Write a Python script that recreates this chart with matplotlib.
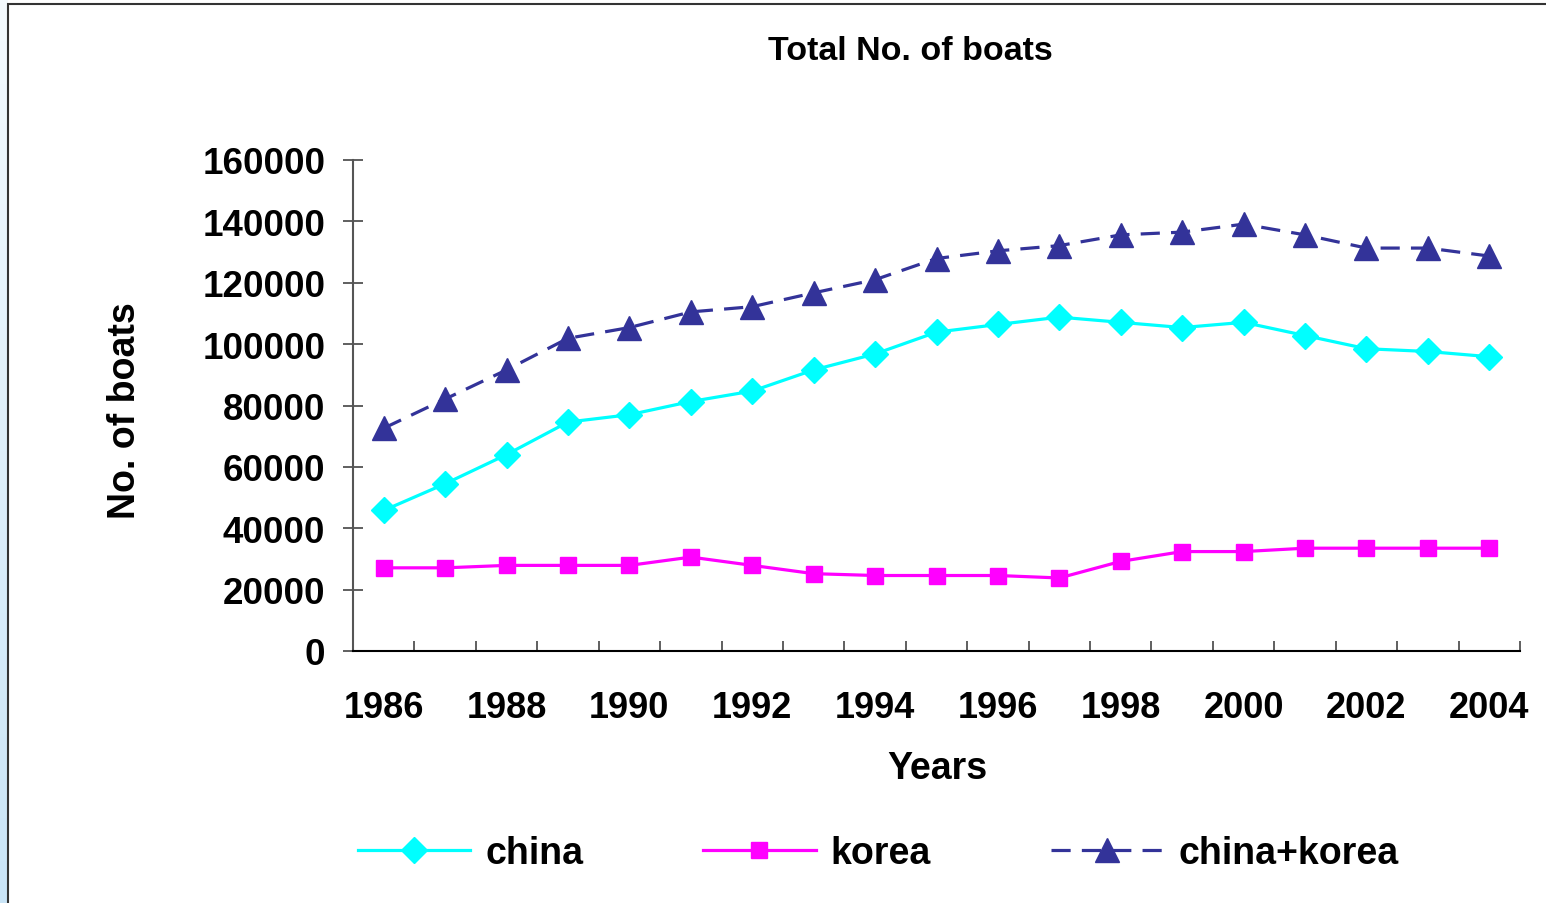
import numpy as np
import matplotlib
matplotlib.use("Agg")
import matplotlib.pyplot as plt
from matplotlib.patches import Rectangle

plt.rcParams['font.family'] = ['Liberation Sans', 'DejaVu Sans']
plt.rcParams['font.weight'] = 'bold'

years = list(range(1986, 2005))
china = [45800, 54500, 64000, 74600, 77000, 81300, 84700, 91600, 96800, 103900,
         106400, 108800, 107100, 105400, 107100, 102800, 98500, 97600, 95900]
korea = [27100, 27100, 27900, 27900, 27900, 30600, 27900, 25200, 24600, 24600,
         24600, 23800, 29200, 32400, 32400, 33500, 33500, 33500, 33500]
china_korea = [72600, 82100, 91600, 101900, 105400, 110500, 112200, 116700, 121000, 127900,
               130400, 132100, 135600, 136500, 139100, 135600, 131300, 131300, 128700]
y_ticks = [0, 20000, 40000, 60000, 80000, 100000, 120000, 140000, 160000]

W, H = 1546, 904
fig = plt.figure(figsize=(W / 100, H / 100), dpi=100)
fig.patch.set_facecolor('white')

# light blue strip along the left edge
grad = np.linspace(0.0, 1.0, 256).reshape(-1, 1)
strip = fig.add_axes([0, 0, 8 / W, 1])
strip.imshow(grad, aspect='auto', cmap=matplotlib.colors.LinearSegmentedColormap.from_list(
    'edge', ['#c9e4f6', '#f4fafe']), origin='lower')
strip.set_axis_off()

# outer frame of the chart area
fig.patches.append(Rectangle((8 / W, -0.05), 1.2, 1.05 - 5 / H, transform=fig.transFigure,
                             fill=False, edgecolor='#333333', linewidth=1.5, zorder=0))

ax = fig.add_axes([353 / W, 1 - 652 / H, (1520 - 353) / W, (652 - 161) / H])
x = np.arange(len(years))

ax.plot(x, china, color='#00FFFF', lw=2.3, marker='D', ms=13, mec='#00FFFF', label='china')
ax.plot(x, korea, color='#FF00FF', lw=2.3, marker='s', ms=11.5, mec='#FF00FF', label='korea')
ax.plot(x, china_korea, color='#333399', lw=2.3, dashes=(6, 3.5), marker='^', ms=17,
        mec='#333399', label='china+korea')

ax.set_xlim(-0.5, len(years) - 0.5)
ax.set_ylim(0, 160000)

for s in ['top', 'right']:
    ax.spines[s].set_visible(False)
ax.spines['left'].set_color('#555555')
ax.spines['left'].set_linewidth(1.5)
ax.spines['bottom'].set_color('black')
ax.spines['bottom'].set_linewidth(1.5)

ax.set_yticks(y_ticks)
ax.set_yticklabels([str(v) for v in y_ticks], fontsize=26.5, fontweight='bold')
ax.tick_params(axis='y', direction='inout', length=14, width=1.2, color='#444444', pad=13)

# category boundaries carry the tick marks; every other year is labelled
ax.set_xticks(np.arange(-0.5, len(years), 1.0))
ax.set_xticklabels([])
ax.tick_params(axis='x', which='major', direction='in', length=7, width=1.2, color='#444444')
ax.set_xticks(x[::2], minor=True)
ax.set_xticklabels([str(y) for y in years[::2]], minor=True, fontsize=26, fontweight='bold')
ax.tick_params(axis='x', which='minor', length=0, pad=28)

fig.text(910 / W, 1 - 52 / H, 'Total No. of boats', ha='center', va='center',
         fontsize=24.5, fontweight='bold')
fig.text(937 / W, 1 - 769 / H, 'Years', ha='center', va='center',
         fontsize=27, fontweight='bold')
fig.text(125 / W, 1 - 411 / H, 'No. of boats', ha='center', va='center',
         rotation=90, fontsize=27, fontweight='bold')

handles, labels = ax.get_legend_handles_labels()
fig.legend(handles, labels, loc='center', bbox_to_anchor=(878 / W, 1 - 854 / H), ncol=3,
           frameon=False, handlelength=3.0, handletextpad=0.4,
           columnspacing=3.2, prop={'weight': 'bold', 'size': 27})

fig.savefig('out.png', dpi=100)
